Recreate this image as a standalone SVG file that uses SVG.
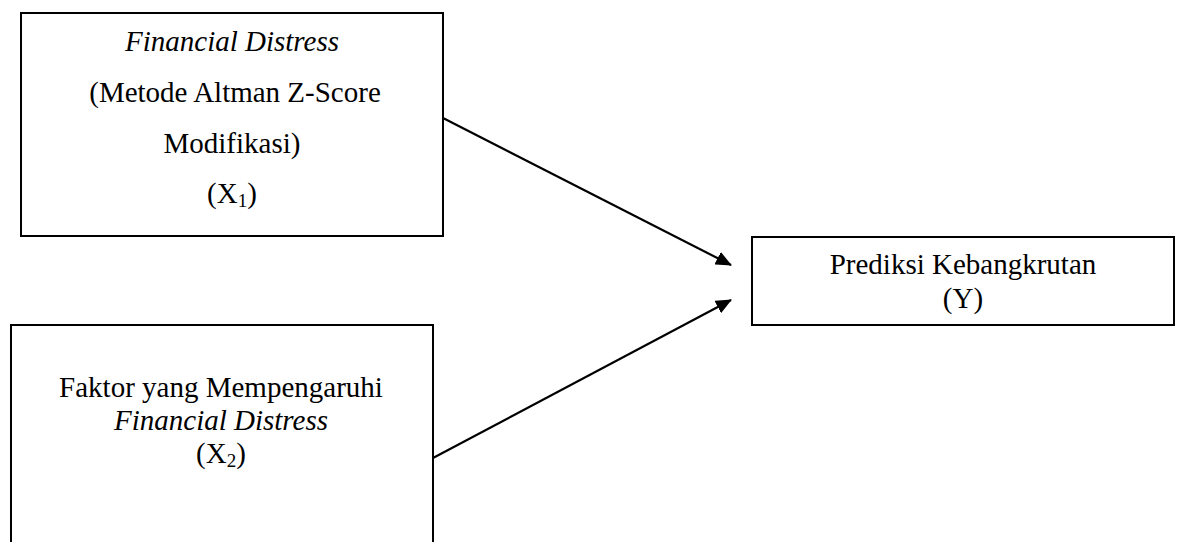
<svg xmlns="http://www.w3.org/2000/svg" width="1181" height="542" viewBox="0 0 1181 542">
<style>
.box{fill:#fff;stroke:#000;stroke-width:2}
.t{font-family:"Liberation Serif","Times New Roman",serif;font-size:29px;fill:#000;text-anchor:middle}
.i{font-style:italic}
.sub{font-size:19px}
.edge{stroke:#000;stroke-width:2.2;fill:none;marker-end:url(#ah)}
</style>
<defs>
<marker id="ah" markerWidth="16" markerHeight="14" refX="15" refY="7" orient="auto" markerUnits="userSpaceOnUse">
<path d="M0,0 L16,7 L0,14 Z" fill="#000"/>
</marker>
</defs>
<rect width="1181" height="542" fill="#fff"/>
<g id="connectors">
<line class="edge" x1="443" y1="118" x2="731" y2="265"/>
<line class="edge" x1="433" y1="458" x2="731" y2="300"/>
</g>
<g id="x1">
<rect class="box" x="21" y="13" width="422" height="223"/>
<text class="t i" x="232" y="51">Financial Distress</text>
<text class="t" x="235" y="102">(Metode Altman Z-Score</text>
<text class="t" x="232" y="153">Modifikasi)</text>
<text class="t" x="232" y="203">(X<tspan class="sub" dy="4">1</tspan><tspan dy="-4">)</tspan></text>
</g>
<g id="x2">
<rect class="box" x="11" y="325" width="422" height="240"/>
<text class="t" x="221" y="397">Faktor yang Mempengaruhi</text>
<text class="t i" x="221" y="430">Financial Distress</text>
<text class="t" x="221" y="463">(X<tspan class="sub" dy="4">2</tspan><tspan dy="-4">)</tspan></text>
</g>
<g id="y">
<rect class="box" x="752" y="237" width="422" height="88" stroke-width="1.5"/>
<text class="t" x="963" y="274">Prediksi Kebangkrutan</text>
<text class="t" x="963" y="308">(Y)</text>
</g>
</svg>
